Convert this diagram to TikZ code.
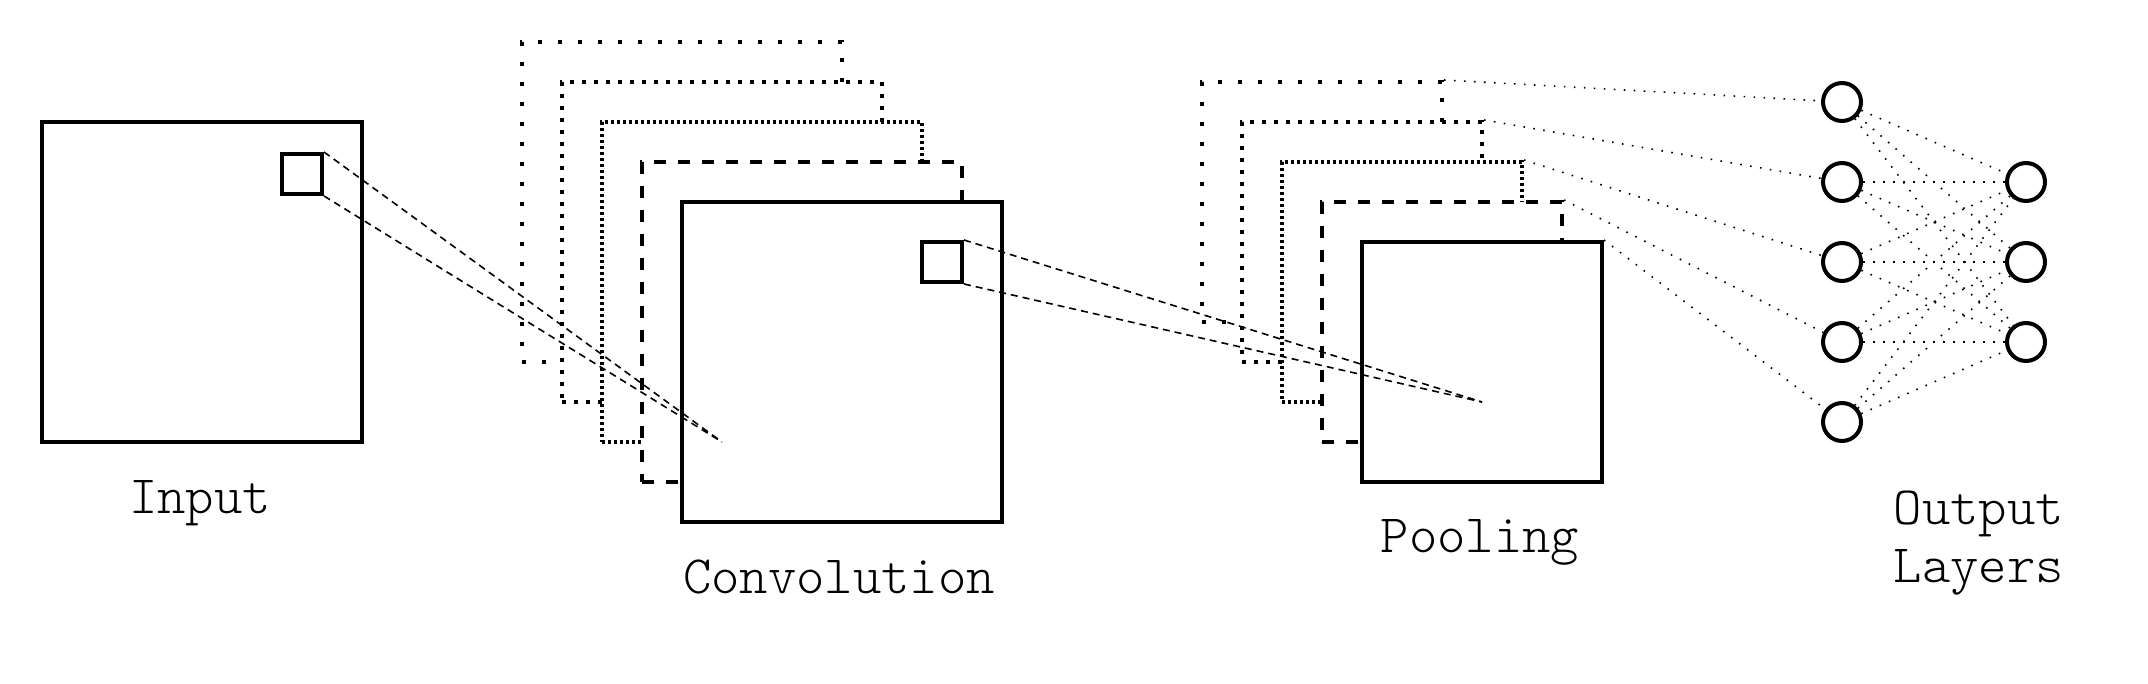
\documentclass[tikz,border=0pt]{standalone}
\usepackage{fontspec}
\setmonofont{Latin Modern Mono Light}
\tikzset{every picture/.style={line width=0.75pt}}

\begin{document}
\begin{tikzpicture}[x=0.5pt,y=0.5pt,yscale=-1,xscale=1,
  fmap/.style={draw,fill=white,rectangle,inner sep=0pt,line width=2pt},
  bigmap/.style={fmap,minimum width=160pt,minimum height=160pt},
  poolmap/.style={fmap,minimum width=120pt,minimum height=120pt},
  kern/.style={draw,rectangle,inner sep=0pt,line width=2pt,minimum size=20pt},
  loosedots/.style={dash pattern=on 2pt off 8pt},
  middots/.style={dash pattern=on 2pt off 4pt},
  densedots/.style={dash pattern=on 1.7pt off 1.3pt},
  thickdash/.style={dash pattern=on 6pt off 6pt},
  rfield/.style={line width=0.8pt,dash pattern=on 3.5pt off 2.5pt},
  fconn/.style={line width=0.8pt,dash pattern=on 0.8pt off 4.2pt},
  unit/.style={draw,circle,inner sep=0pt,line width=2pt,minimum size=19pt},
  lbl/.style={inner sep=0pt,font=\fontsize{27}{29}\selectfont\ttfamily}]
\useasboundingbox (0,0) rectangle (2148,684);

%Shape: Square [input]
\node[bigmap] (inp) at (202,282) {};
\node[kern] (inpsq) at (302,174) {};

%Shape: Square [convolution stack, back to front]
\node[bigmap,loosedots] (c1) at (682,202) {};
\node[bigmap,middots] (c2) at (722,242) {};
\node[bigmap,densedots] (c3) at (762,282) {};
\node[bigmap,thickdash] (c4) at (802,322) {};
\node[bigmap] (c5) at (842,362) {};
\node[kern] (csq) at (942,262) {};

%Shape: Square [pooling stack, back to front]
\node[poolmap,loosedots] (p1) at (1322,202) {};
\node[poolmap,middots] (p2) at (1362,242) {};
\node[poolmap,densedots] (p3) at (1402,282) {};
\node[poolmap,thickdash] (p4) at (1442,322) {};
\node[poolmap] (p5) at (1482,362) {};

%Shape: Circle [output units]
\foreach \i/\y in {1/102,2/182,3/262,4/342,5/422}
  \node[unit] (o\i) at (1842,\y) {};
\foreach \j/\y in {1/182,2/262,3/342}
  \node[unit] (h\j) at (2026,\y) {};

%Straight Lines [receptive fields]
\coordinate (cfoc) at (722,442);
\coordinate (pfoc) at (1482,402);
\draw[rfield] (inpsq.north east) -- (cfoc);
\draw[rfield] (inpsq.south east) -- (cfoc);
\draw[rfield] (csq.north east) -- (pfoc);
\draw[rfield] (csq.south east) -- (pfoc);

%Straight Lines [pooling to output]
\foreach \i in {1,...,5}
  \draw[fconn] (p\i.north east) -- (o\i);
\foreach \i in {1,...,5}
  \foreach \j in {1,2,3}
    \draw[fconn] (o\i) -- (h\j);

% Text Node
\node[lbl,anchor=base] (tinp) at (200,513) {Input};
% Text Node
\node[lbl,anchor=base] (tconv) at (839,593) {Convolution};
% Text Node
\node[lbl,anchor=base] (tpool) at (1480,552) {Pooling};
% Text Node
\node[lbl,anchor=base west,align=left] (tout) at (1893,582) {Output\\Layers};

\end{tikzpicture}
\end{document}
